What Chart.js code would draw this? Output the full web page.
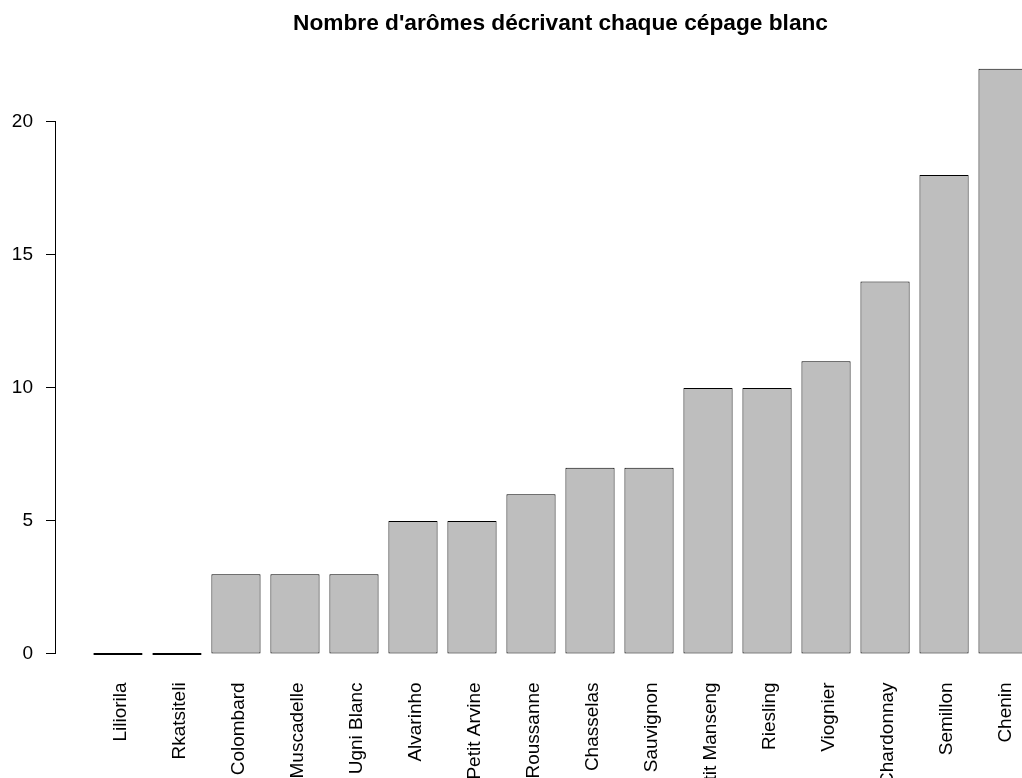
<!DOCTYPE html>
<html>
<head>
<meta charset="utf-8">
<script src="https://cdn.jsdelivr.net/npm/chart.js@4/dist/chart.umd.min.js"></script>
<style>
  html, body { margin: 0; padding: 0; background: #fff; overflow: hidden; }
  #wrap { position: absolute; left: 0; top: 0; width: 1090px; height: 830px; }
</style>
</head>
<body>
<div id="wrap"><canvas id="myChart"></canvas></div>
<script>
const chartTitle = "Nombre d'arômes décrivant chaque cépage blanc";
const cepages = ['Liliorila', 'Rkatsiteli', 'Colombard', 'Muscadelle', 'Ugni Blanc', 'Alvarinho',
    'Petit Arvine', 'Roussanne', 'Chasselas', 'Sauvignon', 'Petit Manseng', 'Riesling',
    'Viognier', 'Chardonnay', 'Semillon', 'Chenin'];
const aromes = [0, 0, 3, 3, 3, 5, 5, 6, 7, 7, 10, 10, 11, 14, 18, 22];
const yTicks = [0, 5, 10, 15, 20];

Chart.defaults.font.family = "'Liberation Sans', Arial, Helvetica, sans-serif";
Chart.defaults.color = '#000';

// R draws its y axis only from the first to the last tick
const axisLine = {
    id: 'axisLine',
    afterDraw: (chart) => {
        const {ctx, chartArea, scales} = chart;
        const x = Math.round(chartArea.left) - 0.5;
        ctx.save();
        ctx.strokeStyle = '#000';
        ctx.lineWidth = 1;
        ctx.beginPath();
        ctx.moveTo(x, scales.y.getPixelForValue(yTicks[0]));
        ctx.lineTo(x, scales.y.getPixelForValue(yTicks[yTicks.length - 1]));
        ctx.stroke();
        ctx.restore();
    }
};

const ctxB = document.getElementById('myChart').getContext('2d');
const myBarChart = new Chart(ctxB, {
    type: 'bar',
    data: {
        datasets: [{
            label: 'Arômes',
            data: aromes.map((v, i) => ({x: i, y: v})),
            backgroundColor: '#bebebe',
            borderColor: '#000',
            borderWidth: 1,
            borderSkipped: false,
            minBarLength: 2,
            barPercentage: 1 / 1.2,
            categoryPercentage: 1
        }]
    },
    options: {
        responsive: true,
        maintainAspectRatio: false,
        animation: false,
        layout: {padding: {left: 0, right: 25, top: 0, bottom: 0}},
        plugins: {
            legend: {display: false},
            tooltip: {enabled: false},
            title: {
                display: true,
                text: chartTitle,
                fullSize: false,
                color: '#000',
                font: {size: 22.7, weight: 'bold'},
                padding: {top: 10, bottom: 8}
            }
        },
        scales: {
            x: {
                type: 'linear',
                offset: false,
                min: -1.05,
                max: cepages.length - 1 + 1.05,
                grid: {display: false, drawTicks: false, offset: false},
                border: {display: false},
                afterBuildTicks: (scale) => {
                    scale.ticks = cepages.map((c, i) => ({value: i}));
                },
                afterFit: (scale) => {
                    scale.height = 830 - 677.4;
                },
                ticks: {
                    autoSkip: false,
                    minRotation: 90,
                    maxRotation: 90,
                    padding: 5,
                    labelOffset: 3,
                    font: {size: 19},
                    callback: (value, index) => cepages[index]
                }
            },
            y: {
                min: -0.88,
                max: 22.88,
                afterBuildTicks: (scale) => {
                    scale.ticks = yTicks.map(v => ({value: v}));
                },
                afterFit: (scale) => {
                    scale.width = 56;
                },
                grid: {
                    display: true,
                    drawOnChartArea: false,
                    drawTicks: true,
                    tickLength: 10,
                    color: '#000',
                    lineWidth: 1
                },
                border: {display: false},
                ticks: {
                    padding: 13,
                    font: {size: 19},
                    callback: (value) => value
                }
            }
        }
    },
    plugins: [axisLine]
});
</script>
</body>
</html>
